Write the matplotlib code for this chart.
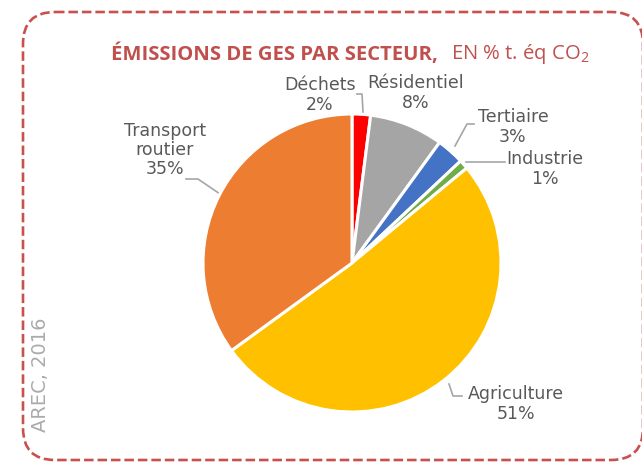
import matplotlib
matplotlib.use("Agg")
import matplotlib.pyplot as plt
from matplotlib.patches import FancyBboxPatch

plt.rcParams['font.family'] = ['DejaVu Sans']
plt.rcParams['mathtext.fontset'] = 'custom'
plt.rcParams['mathtext.rm'] = 'Open Sans'

# data (clockwise from the top)
sectors = ["Déchets", "Résidentiel", "Tertiaire", "Industrie", "Agriculture", "Transport\nroutier"]
shares = [2, 8, 3, 1, 51, 35]
colors = ["#FF0000", "#A5A5A5", "#4472C4", "#70AD47", "#FFC000", "#ED7D31"]

title_bold = "ÉMISSIONS DE GES PAR SECTEUR,"
title_rest = r"EN % t. éq $\mathregular{CO_2}$"
source = "AREC, 2016"

W, H = 642, 464
fig = plt.figure(figsize=(W / 100, H / 100), dpi=100)

# overlay axes in pixel coords (y down)
bg = fig.add_axes([0, 0, 1, 1])
bg.set_xlim(0, W)
bg.set_ylim(H, 0)
bg.axis("off")

frame = FancyBboxPatch((23, 13), 620, 448, boxstyle="round,pad=0,rounding_size=32",
                       fill=False, edgecolor="#C9504F", linewidth=1.9,
                       linestyle=(0, (3.6, 1.5)))
bg.add_patch(frame)

bg.text(438, 54, title_bold, color="#C0504D", fontsize=14.6, fontweight="bold",
        family="Open Sans", ha="right", va="center")
bg.text(451, 54, title_rest, color="#C0504D", fontsize=14.6, family="Open Sans",
        ha="left", va="center")

bg.text(41, 375, source, rotation=90, color="#ABABAB", fontsize=14,
        ha="center", va="center")

# pie
cx, cy, r = 352, 264, 149
pax = fig.add_axes([(cx - r) / W, (H - cy - r) / H, 2 * r / W, 2 * r / H])
pax.pie(shares, colors=colors, startangle=90, counterclock=False,
        wedgeprops=dict(edgecolor="white", linewidth=2.2))
pax.set_xlim(-1, 1)
pax.set_ylim(-1, 1)
pax.set_aspect("equal")

labels = [f"{s}\n{v}%" for s, v in zip(sectors, shares)]
label_pos = [(320, 95), (416, 93), (513, 127), (545, 169), (516, 404), (165, 150)]
lc = "#595959"
for lab, (x, y) in zip(labels, label_pos):
    bg.text(x, y, lab, color=lc, fontsize=12.5, ha="center", va="center",
            linespacing=1.1)

gray = "#A6A6A6"
leaders = [
    [(357, 95), (362, 95), (363, 113)],
    [(455, 147), (467, 125), (474, 125)],
    [(466, 163), (505, 163)],
    [(449, 385), (453, 397), (462, 397)],
    [(186, 180), (198, 180), (220, 195)],
]
for pts in leaders:
    xs, ys = zip(*pts)
    bg.plot(xs, ys, color=gray, linewidth=1.2)

fig.savefig("out.png", dpi=100)
